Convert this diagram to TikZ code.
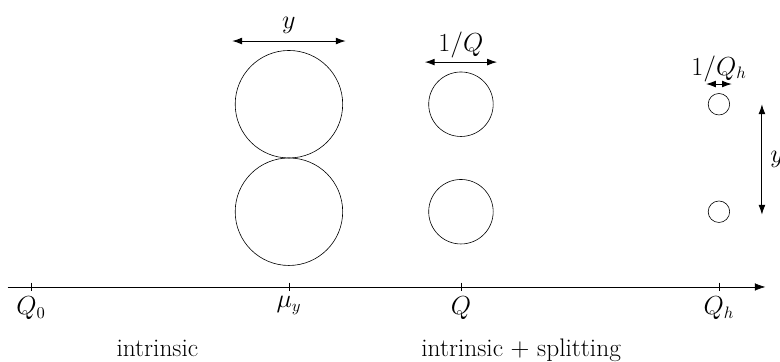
\documentclass[tikz,border=0pt]{standalone}
\usepackage{amsmath,amssymb}
\usepackage{tikz}
\usetikzlibrary{positioning,arrows.meta,calc}

\begin{document}
\begin{tikzpicture}[x=2cm, y=2cm,
    dim/.style={{Latex[length=6.5pt,width=4.5pt]}-{Latex[length=6.5pt,width=4.5pt]}, semithick},
    bubble/.style={draw, circle, inner sep=0pt, minimum size=#1},
    lbl/.style={font=\fontsize{16}{19}\selectfont},
    regime/.style={font=\fontsize{16.8}{20}\selectfont, anchor=base}]
  \useasboundingbox (-0.36,-0.872) rectangle (8.71,3.337);

  % axis
  \coordinate (start) at (-0.27,0);
  \coordinate (end) at (8.54,0);
  \draw[-{Latex[length=7pt,width=5pt]}] (start) -- (end);

  \foreach \c/\txt/\nm in {0/{$Q_0$}/q0,3/{$\mu_y$}/mu,5/{$Q$}/q,8/{$Q_h$}/qh} {
    \draw (\c, 0.05) -- (\c, -0.05);
    \node[lbl, below=0pt] (\nm) at (\c, -0.05) {\txt};
  }

  % intrinsic width
  \node[bubble=2.5cm] (bigtop) at (3, 2.125) {};
  \node[bubble=2.5cm] (bigbot) at (3, 0.875) {};
  \coordinate (yl) at (2.34, 2.86);
  \coordinate (yr) at (3.66, 2.86);
  \draw[dim] (yl) -- node[lbl, above=1pt] {$y$} (yr);

  % intrinsic + splitting
  \node[bubble=1.5cm] (midtop) at (5, 2.125) {};
  \node[bubble=1.5cm] (midbot) at (5, 0.875) {};
  \coordinate (ql) at (4.58, 2.615);
  \coordinate (qr) at (5.42, 2.615);
  \draw[dim] (ql) -- node[lbl, above=-1pt] {$1/Q$} (qr);

  % high Q
  \node[bubble=0.5cm] (smalltop) at (8, 2.125) {};
  \node[bubble=0.5cm] (smallbot) at (8, 0.875) {};
  \coordinate (hl) at (7.85, 2.36);
  \coordinate (hr) at (8.15, 2.36);
  \draw[dim] (hl) -- node[lbl, above=-2pt] {$1/Q_h$} (hr);
  \coordinate (vt) at (8.5, 2.125);
  \coordinate (vb) at (8.5, 0.84);
  \draw[dim] (vt) -- node[lbl, right=2pt] {$y$} (vb);

  \node[regime] (intr) at (1.47, -0.814) {intrinsic};
  \node[regime] (split) at (5.70, -0.814) {intrinsic $+$ splitting};
\end{tikzpicture}
\end{document}
